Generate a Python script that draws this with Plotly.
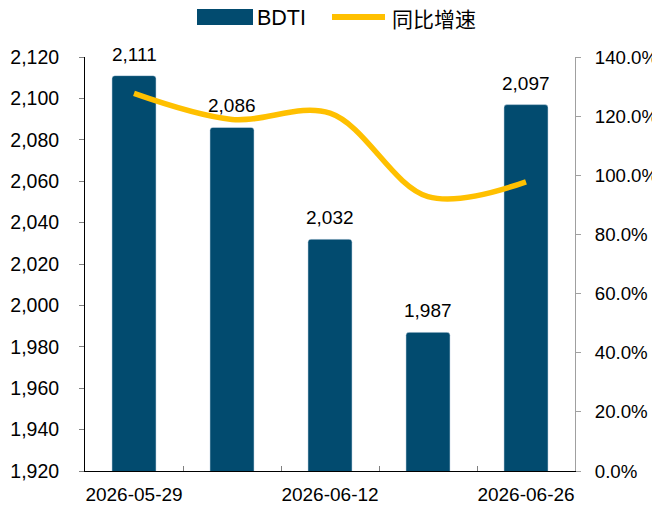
import plotly.graph_objects as go

dates = ["2026-05-29", "2026-06-05", "2026-06-12", "2026-06-19", "2026-06-26"]
bdti = [2111, 2086, 2032, 1987, 2097]
yoy = [1.277, 1.189, 1.21, 0.928, 0.978]
x_tick_text = ["2026-05-29", "", "2026-06-12", "", "2026-06-26"]
left_ticks = [1920, 1940, 1960, 1980, 2000, 2020, 2040, 2060, 2080, 2100, 2120]
right_ticks = [0, 0.2, 0.4, 0.6, 0.8, 1.0, 1.2, 1.4]

BAR = "#024B6F"
LINE = "#FFC000"
FONT = "Liberation Sans, Arial, sans-serif"

# page has an 8px body margin; plot area spans x 85..575, y 57..471 in the window
fig = go.Figure()
fig.add_trace(go.Bar(
    x=dates, y=bdti, name="BDTI", marker=dict(color=BAR, cornerradius=3),
    showlegend=False,
))
fig.add_trace(go.Scatter(
    x=dates, y=yoy, name="同比增速", yaxis="y2", mode="lines",
    line=dict(color=LINE, width=5.5, shape="spline", smoothing=1.0),
    showlegend=False,
))

for d, v in zip(dates, bdti):
    fig.add_annotation(x=d, y=v, xref="x", yref="y", text=f"{v:,}",
                       showarrow=False, yanchor="bottom", yshift=9,
                       font=dict(size=19, family=FONT, color="black"))

fig.update_layout(
    width=652, height=501,
    margin=dict(l=77, r=85, t=49, b=38),
    paper_bgcolor="white", plot_bgcolor="white",
    font=dict(family=FONT, size=19, color="black"),
    bargap=0.55,
    xaxis=dict(
        type="category", tickmode="array", tickvals=dates, ticktext=x_tick_text,
        tickson="boundaries", ticks="inside", ticklen=5, tickcolor="#808080",
        showline=True, linecolor="black", linewidth=1, showgrid=False,
        tickfont=dict(size=19), ticklabelstandoff=6, tickangle=0,
        automargin=False,
    ),
    yaxis=dict(
        range=[1920, 2120], tickmode="array", tickvals=left_ticks,
        ticktext=[f"{v:,}" for v in left_ticks],
        ticks="outside", ticklen=5, tickcolor="#808080",
        showline=True, linecolor="black", linewidth=1, showgrid=False,
        zeroline=False, ticklabelstandoff=16, tickfont=dict(size=19.5),
        automargin=False,
    ),
    yaxis2=dict(
        overlaying="y", side="right", range=[0, 1.4], tickmode="array",
        tickvals=right_ticks, ticktext=[f"{v*100:.1f}%" for v in right_ticks],
        ticks="outside", ticklen=5, tickcolor="#A0A0A0",
        showline=True, linecolor="#A0A0A0", linewidth=1, showgrid=False,
        zeroline=False, ticklabelstandoff=10, tickfont=dict(size=18.7),
        automargin=False,
    ),
)

# custom legend (pixel positions relative to the plot area)
def px(x):
    return (x - 85) / 490

def py(y):
    return (471 - y) / 414

fig.add_shape(type="rect", xref="paper", yref="paper",
              x0=px(197), x1=px(253), y0=py(25), y1=py(9),
              fillcolor=BAR, line=dict(width=0))
fig.add_annotation(xref="paper", yref="paper", x=px(255), y=py(17.5),
                   text="BDTI", showarrow=False, xanchor="left", yanchor="middle",
                   font=dict(size=21.5, family=FONT, color="black"))
fig.add_shape(type="line", xref="paper", yref="paper",
              x0=px(332), x1=px(385), y0=py(17), y1=py(17),
              line=dict(color=LINE, width=6))
fig.add_annotation(xref="paper", yref="paper", x=px(390), y=py(17.5),
                   text="同比增速", showarrow=False, xanchor="left", yanchor="middle",
                   font=dict(size=21, family="Noto Sans CJK SC", color="black"))

fig.write_html("out.html")
